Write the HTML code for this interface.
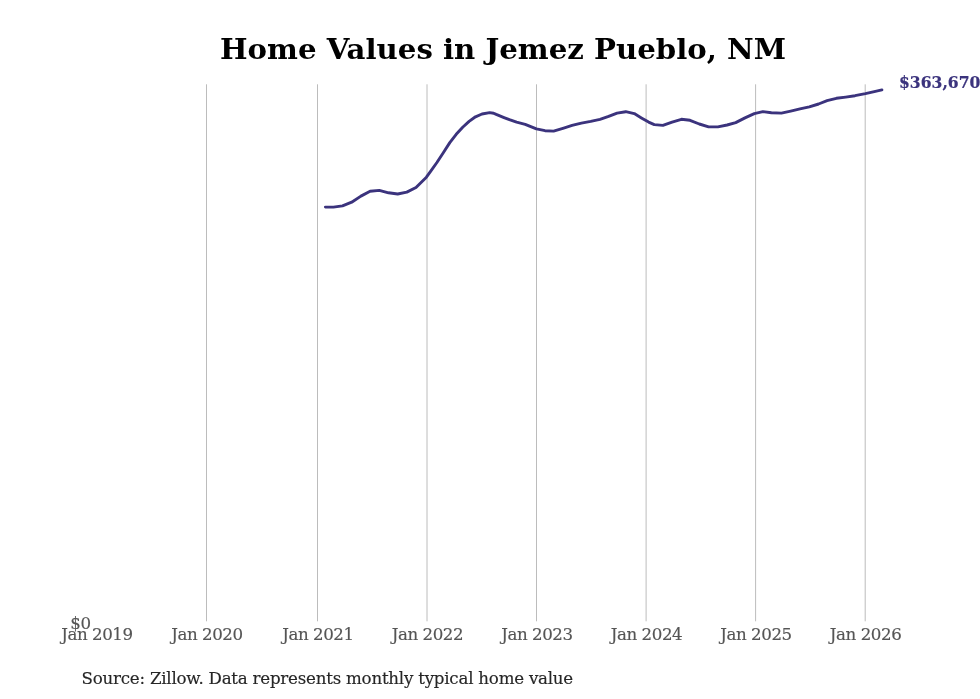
<!DOCTYPE html>
<html lang="en">
<head>
<meta charset="utf-8">
<title>Home Values in Jemez Pueblo, NM</title>
<style>
html,body{margin:0;padding:0;background:#fff;}
body{width:980px;height:699px;overflow:hidden;font-family:"DejaVu Serif","Liberation Serif",serif;}
svg{display:block;}
text{font-family:"DejaVu Serif","Liberation Serif",serif;}
.title{font-size:29.2px;font-weight:bold;fill:#000;}
.tick{font-size:16.67px;fill:#555;stroke:#555;stroke-width:0.15px;letter-spacing:-0.45px;}
.src{font-size:16.67px;fill:#262626;stroke:#262626;stroke-width:0.15px;letter-spacing:-0.228px;}
.val{font-size:15.6px;font-weight:bold;fill:#3b337d;stroke:#3b337d;stroke-width:0.2px;}
</style>
</head>
<body>
<svg width="980" height="699" viewBox="0 0 980 699">
<rect width="980" height="699" fill="#ffffff"/>
<g stroke="#bcbcbc" stroke-width="1" fill="none">
<line x1="206.5" y1="84.3" x2="206.5" y2="621.3"/>
<line x1="317.5" y1="84.3" x2="317.5" y2="621.3"/>
<line x1="427.0" y1="84.3" x2="427.0" y2="621.3"/>
<line x1="536.5" y1="84.3" x2="536.5" y2="621.3"/>
<line x1="646.1" y1="84.3" x2="646.1" y2="621.3"/>
<line x1="755.6" y1="84.3" x2="755.6" y2="621.3"/>
<line x1="865.2" y1="84.3" x2="865.2" y2="621.3"/>
</g>
<path d="M325.4 207.1 L333.4 207.1 L342.5 205.9 L351.7 202.2 L360.9 196.1 L370.1 191.2 L379.3 190.4 L388.5 192.8 L397.7 194.0 L406.8 192.1 L416.0 187.5 L426.4 177.2 L430.4 171.6 L436.9 162.5 L443.3 152.7 L449.8 142.6 L456.2 134.3 L462.7 127.2 L469.1 121.4 L475.5 116.8 L482.0 114.0 L489.7 112.6 L493.6 113.2 L496.2 114.4 L504.0 117.6 L509.4 119.7 L516.6 122.2 L525.2 124.3 L536.4 128.9 L545.0 130.7 L553.6 131.1 L562.9 128.3 L572.1 125.4 L581.4 123.1 L590.7 121.4 L600.0 119.3 L608.6 116.4 L617.1 113.1 L625.7 111.7 L634.3 113.6 L641.4 117.9 L648.6 122.1 L654.3 124.6 L662.9 125.4 L672.1 122.1 L681.4 119.3 L690.0 120.3 L699.3 124.0 L708.6 126.9 L717.9 126.9 L727.1 125.0 L735.7 122.6 L745.0 117.9 L754.3 113.6 L762.9 111.6 L771.4 112.7 L781.4 113.1 L790.7 111.1 L800.0 108.9 L809.3 106.9 L818.6 104.0 L827.1 100.7 L836.4 98.3 L845.7 97.1 L855.0 95.7 L865.4 93.7 L874.3 91.7 L881.9 89.9" fill="none" stroke="#3b337d" stroke-width="2.9" stroke-linejoin="round" stroke-linecap="round"/>
<text class="title" transform="translate(503 58.9) scale(1 0.972)" text-anchor="middle">Home Values in Jemez Pueblo, NM</text>
<text class="val" transform="translate(899.0 88.3) scale(1 1.06)">$363,670</text>
<text class="tick" transform="translate(90.6 628.8) scale(1 1.04)" text-anchor="end">$0</text>
<text class="tick" transform="translate(96.9 640.2) scale(1 1.04)" text-anchor="middle">Jan 2019</text>
<text class="tick" transform="translate(206.9 640.2) scale(1 1.04)" text-anchor="middle">Jan 2020</text>
<text class="tick" transform="translate(317.9 640.2) scale(1 1.04)" text-anchor="middle">Jan 2021</text>
<text class="tick" transform="translate(427.4 640.2) scale(1 1.04)" text-anchor="middle">Jan 2022</text>
<text class="tick" transform="translate(536.9 640.2) scale(1 1.04)" text-anchor="middle">Jan 2023</text>
<text class="tick" transform="translate(646.5 640.2) scale(1 1.04)" text-anchor="middle">Jan 2024</text>
<text class="tick" transform="translate(756.0 640.2) scale(1 1.04)" text-anchor="middle">Jan 2025</text>
<text class="tick" transform="translate(865.6 640.2) scale(1 1.04)" text-anchor="middle">Jan 2026</text>
<text class="src" transform="translate(81.5 683.6) scale(1 1.03)">Source: Zillow. Data represents monthly typical home value</text>
</svg>
</body>
</html>
